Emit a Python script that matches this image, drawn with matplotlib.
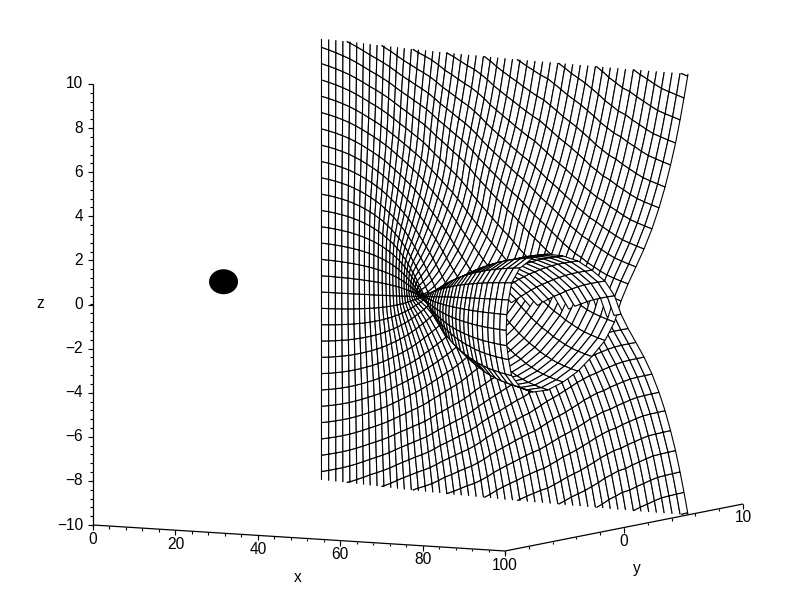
import numpy as np
import matplotlib
matplotlib.use("Agg")
import matplotlib.pyplot as plt
from matplotlib.collections import PathCollection
from matplotlib.patches import Ellipse
from matplotlib.path import Path

plt.rcParams['font.family'] = ['Liberation Sans', 'DejaVu Sans']

# ---- data -----------------------------------------------------------------
x_stations = [0, 2, 4, 6, 8, 10, 12, 14, 16, 18, 20, 22, 24, 26, 28, 30, 32, 34, 36, 38,
              40, 42, 44, 46, 48, 50, 52, 54, 56, 58, 60, 62, 64, 66, 68, 70, 72, 74, 76, 78,
              80, 82, 84, 86, 88, 90, 92, 94, 96, 98, 100]
# share of the x=0 section still present at each station (changes sign at the pinch)
section_keep = [1.000, 0.990, 0.977, 0.961, 0.943, 0.921, 0.897, 0.870, 0.841, 0.809,
                0.775, 0.738, 0.699, 0.659, 0.616, 0.572, 0.526, 0.477, 0.428, 0.377,
                0.325, 0.273, 0.220, 0.166, 0.111, 0.056, 0.001, -0.054, -0.108, -0.163,
                -0.217, -0.271, -0.323, -0.375, -0.425, -0.474, -0.521, -0.567, -0.612, -0.654,
                -0.695, -0.733, -0.770, -0.804, -0.839, -0.868, -0.896, -0.920, -0.941, -0.960, -0.976]
# share of the bending of the section at each station
section_bend = [0.000, 0.001, 0.004, 0.009, 0.015, 0.023, 0.032, 0.043, 0.057, 0.073,
                0.090, 0.108, 0.128, 0.150, 0.174, 0.200, 0.227, 0.254, 0.280, 0.310,
                0.340, 0.370, 0.402, 0.432, 0.462, 0.490, 0.520, 0.550, 0.580, 0.610,
                0.640, 0.670, 0.700, 0.727, 0.752, 0.776, 0.800, 0.823, 0.844, 0.863,
                0.880, 0.897, 0.913, 0.930, 0.945, 0.957, 0.968, 0.977, 0.986, 0.994, 1.000]
# half of the x=0 section (straight line at y_start)
y_start = 9.2
z_start = [0.00, 0.74, 1.48, 2.22, 2.96, 3.70, 4.44, 5.18, 5.92, 6.66, 7.40, 8.14, 8.88,
           9.62, 10.36, 11.10, 11.84, 12.58, 13.32, 14.06, 14.80, 15.54, 16.28, 17.02, 17.76]
# half of the x=100 section (a looped curve)
y_end = [-9.9, -9.85, -9.7, -9.45, -8.74, -7.65, -6.4, -5.13, -3.87, -2.7, -1.6, -0.8, -0.25,
         0.34, 1.0, 1.68, 2.35, 2.94, 3.45, 3.91, 4.33, 4.71, 5.04, 5.35, 5.65]
z_end = [0.0, -0.7, -1.35, -2.10, -2.70, -3.04, -3.08, -2.86, -2.5, -1.96, -1.35, -0.6, 0.3,
         1.01, 1.71, 2.45, 3.29, 4.18, 5.07, 6.02, 6.97, 7.98, 8.94, 9.9, 10.9]

z_ticks = [-10, -8, -6, -4, -2, 0, 2, 4, 6, 8, 10]
x_ticks = [0, 20, 40, 60, 80, 100]
y_ticks = [0, 10]
z_minor = [float(v) for v in np.arange(-10, 10.01, 0.4)]
x_minor = [float(v) for v in np.arange(0, 100.01, 4)]
y_minor = [float(v) for v in np.arange(-10, 10.01, 2)]
ball = (2.8, 0.0, 0.0)

LINE = '#000000'


def project(x, y, z):
    """Box coordinates to picture coordinates."""
    x, y, z = np.asarray(x, float), np.asarray(y, float), np.asarray(z, float)
    return (93 + 4.12 * x + 11.9 * (y + 10),
            304.5 + 0.26 * x - 2.35 * (y + 10) - 22.05 * z)


def clip_polygon(pts, keep):
    """Sutherland-Hodgman; pts are (vertex, edge-is-real) pairs."""
    out = []
    n = len(pts)
    for k in range(n):
        a, ea = pts[k]
        b, _ = pts[(k + 1) % n]
        da, db = keep(a), keep(b)
        if da >= 0:
            out.append((a, ea))
        if (da >= 0) != (db >= 0):
            t = da / (da - db)
            p = a + t * (b - a)
            # leaving the box -> next edge lies on the clip plane
            out.append((p, False if da >= 0 else ea))
    return out


planes = [lambda p: 10 - p[2], lambda p: p[2] + 10, lambda p: p[1] + 10, lambda p: 10 - p[1]]

fig = plt.figure(figsize=(7.86, 6.02), dpi=100)
ax = fig.add_axes([0, 0, 1, 1])
ax.set_xlim(0, 786)
ax.set_ylim(602, 0)
ax.axis('off')

# ---- surface ---------------------------------------------------------------
z0 = np.concatenate([-np.array(z_start[:0:-1]), z_start])
y1 = np.concatenate([y_end[:0:-1], y_end])
z1 = np.concatenate([-np.array(z_end[:0:-1]), z_end])
X = np.array(x_stations, float)[:, None]
K = np.array(section_keep)[:, None]
B = np.array(section_bend)[:, None]
Y = y_start * K + (y1[None, :] - K[-1, 0] * y_start) * B
Z = z0[None, :] * K + (z1[None, :] - K[-1, 0] * z0[None, :]) * B
XX = np.broadcast_to(X, Y.shape)

items = []
for i in range(Y.shape[0] - 1):
    for j in range(Y.shape[1] - 1):
        corners = [(i, j), (i + 1, j), (i + 1, j + 1), (i, j + 1)]
        poly = [(np.array([XX[c], Y[c], Z[c]]), True) for c in corners]
        for keep in planes:
            if poly:
                poly = clip_polygon(poly, keep)
        if len(poly) < 3:
            continue
        P = np.array([p for p, _ in poly])
        u, v = project(P[:, 0], P[:, 1], P[:, 2])
        depth = np.mean(0.0926 * P[:, 0] - 0.802 * P[:, 1] + 0.113 * P[:, 2])
        fill = Path(np.column_stack([np.r_[u, u[0]], np.r_[v, v[0]]]), closed=True)
        vs, cs = [], []
        for k in range(len(poly)):
            if poly[k][1]:
                m = (k + 1) % len(poly)
                vs += [(u[k], v[k]), (u[m], v[m])]
                cs += [Path.MOVETO, Path.LINETO]
        edge = Path(vs, cs) if vs else None
        items.append((depth, fill, edge))
items.sort(key=lambda t: t[0])

paths, faces, edges, widths = [], [], [], []
for _, fill, edge in items:
    paths.append(fill); faces.append((1, 1, 1, 1)); edges.append((0, 0, 0, 0)); widths.append(0)
    if edge is not None:
        paths.append(edge); faces.append((0, 0, 0, 0)); edges.append((0, 0, 0, 1)); widths.append(0.8)
coll = PathCollection(paths, facecolors=faces, edgecolors=edges, linewidths=widths,
                      transform=ax.transData)
ax.add_collection(coll)

# ---- ball ------------------------------------------------------------------
bu, bv = project(*ball)
ax.add_patch(Ellipse((float(bu), float(bv)), 29, 25, facecolor='black', edgecolor='black', lw=0))

# ---- axes ------------------------------------------------------------------
ax_kw = dict(color=LINE, lw=0.9, solid_capstyle='butt')
u, v = project([0, 0], [-10, -10], [-10, 10]); ax.plot(u, v, **ax_kw)
u, v = project([0, 100], [-10, -10], [-10, -10]); ax.plot(u, v, **ax_kw)
u, v = project([100, 100], [-10, 10], [-10, -10]); ax.plot(u, v, **ax_kw)

tick_kw = dict(color=LINE, lw=0.8, solid_capstyle='butt')
text_kw = dict(fontsize=11.2, color='black')
for val in z_minor:
    u, v = project(0, -10, val)
    ax.plot([u - 3, u], [v, v], **tick_kw)
for val in z_ticks:
    u, v = project(0, -10, val)
    ax.plot([u - 5.5, u], [v, v], **tick_kw)
    ax.text(u - 10, v, str(val).replace('-', '\u2212'), ha='right', va='center', **text_kw)
for val in x_minor:
    u, v = project(val, -10, -10)
    ax.plot([u, u], [v, v + 2.5], **tick_kw)
for val in x_ticks:
    u, v = project(val, -10, -10)
    ax.plot([u, u], [v, v + 5], **tick_kw)
    ax.text(u, v + 14, str(val), ha='center', va='center', **text_kw)
for val in y_minor:
    u, v = project(100, val, -10)
    ax.plot([u, u], [v, v + 2.5], **tick_kw)
for val in y_ticks:
    u, v = project(100, val, -10)
    ax.plot([u, u], [v, v + 5], **tick_kw)
    ax.text(u, v + 13.5, str(val), ha='center', va='center', **text_kw)

ax.text(40.5, 303, 'z', ha='center', va='center', **text_kw)
ax.text(298, 578, 'x', ha='center', va='center', **text_kw)
ax.text(637, 568, 'y', ha='center', va='center', **text_kw)

fig.savefig('out.png', dpi=100)
